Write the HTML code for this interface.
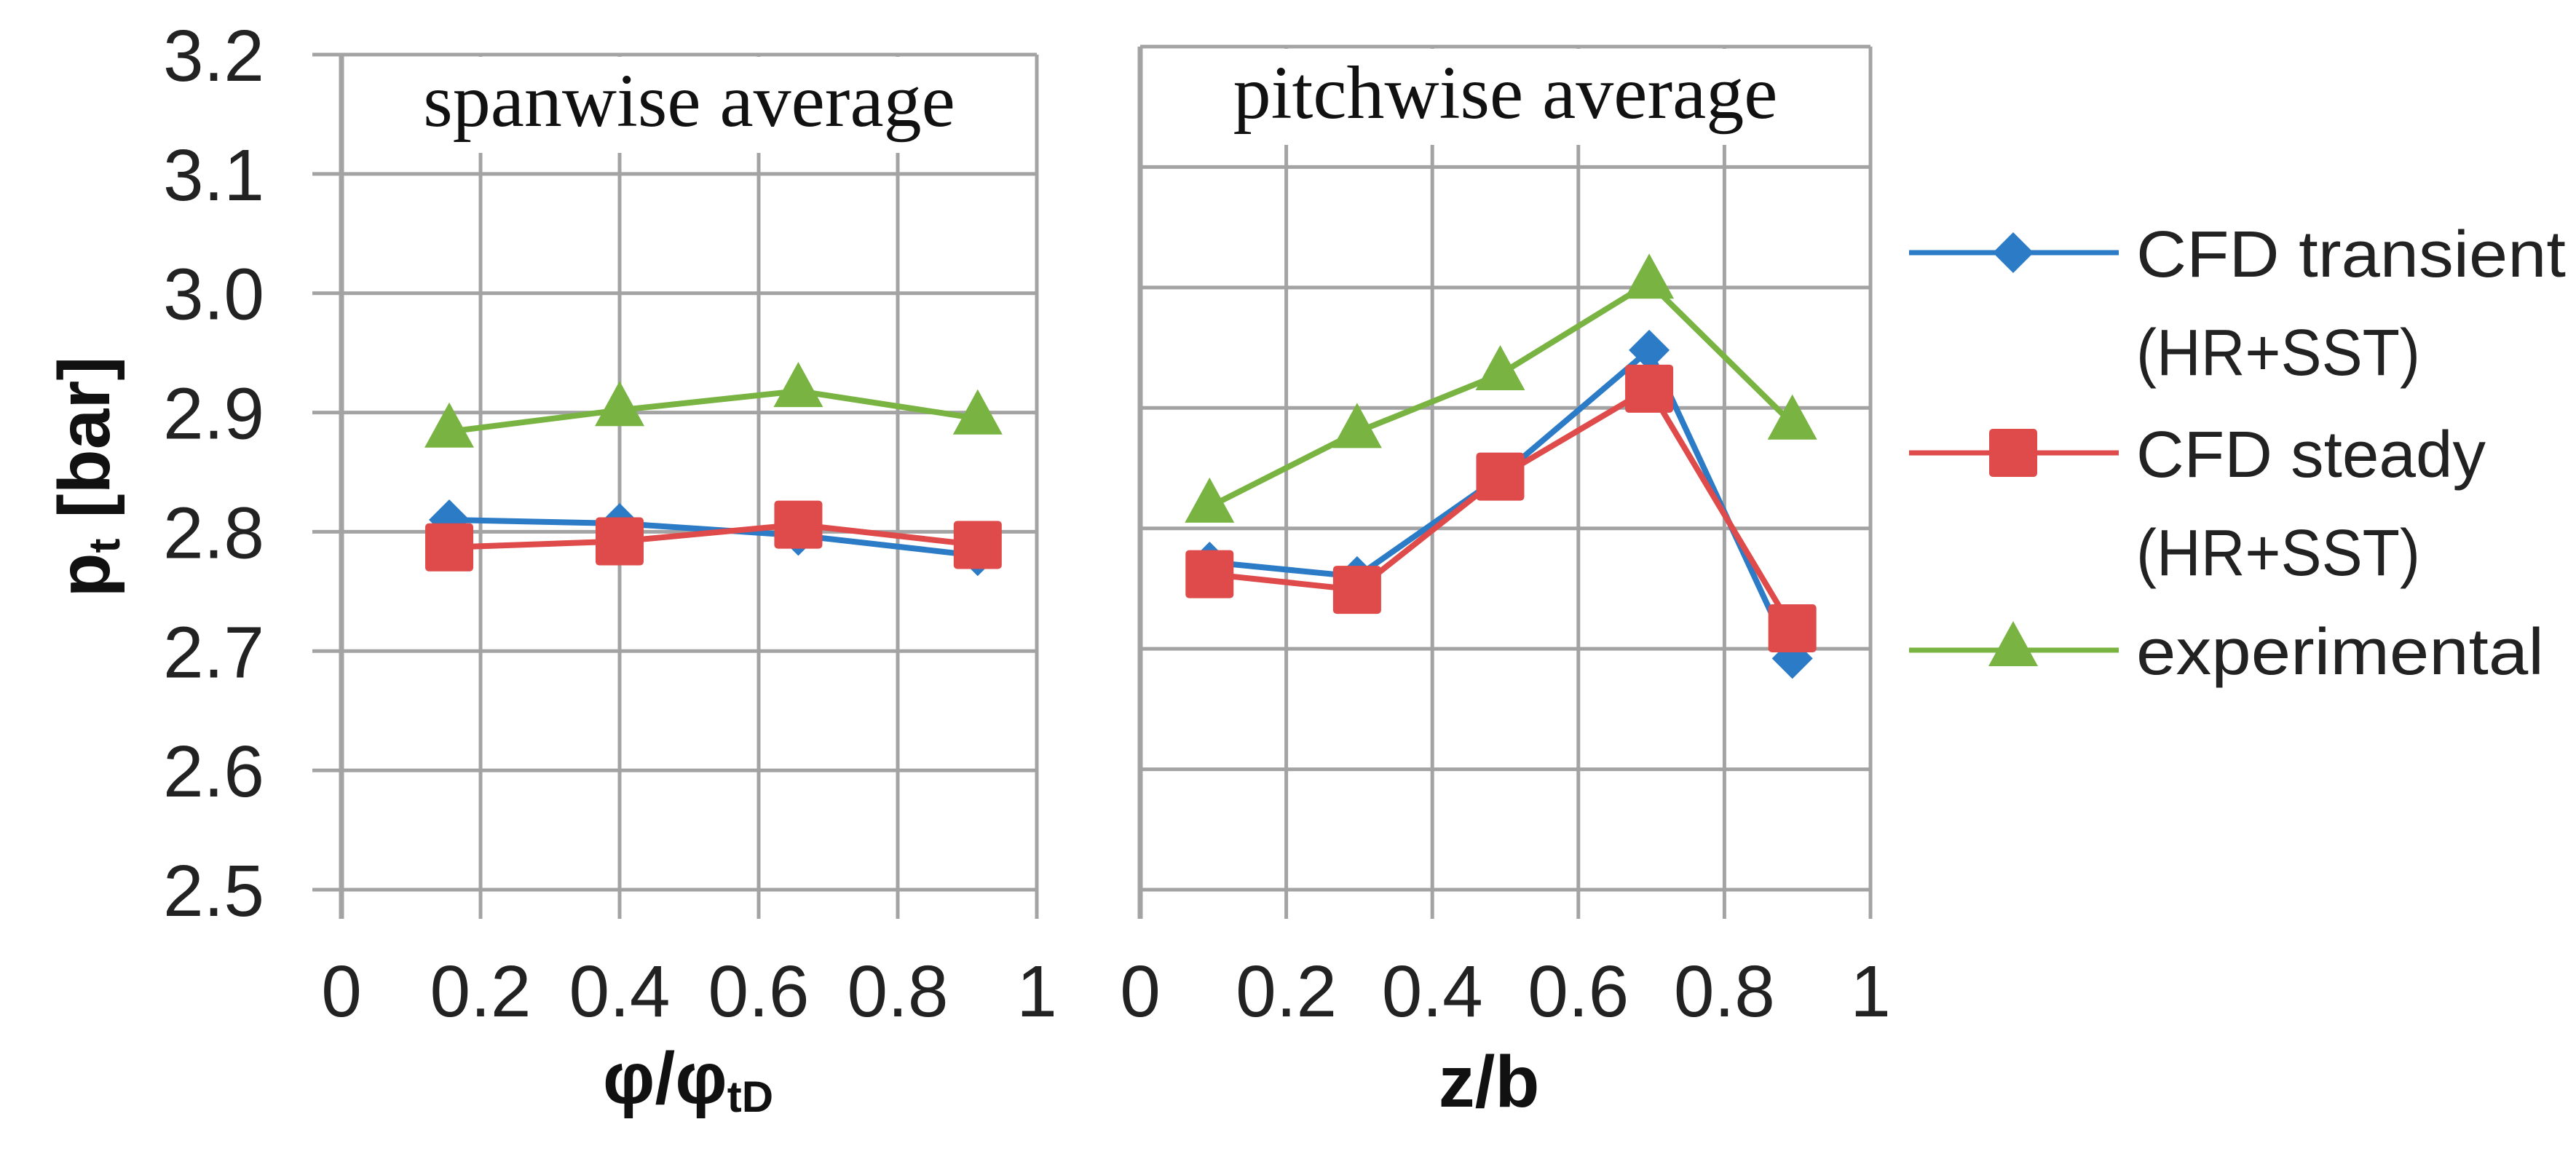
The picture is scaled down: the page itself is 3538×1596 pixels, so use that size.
<!DOCTYPE html>
<html><head><meta charset="utf-8"><style>
html,body{margin:0;padding:0;background:#fff;}
svg{display:block;}
</style></head><body>
<svg id="chart" width="3538" height="1596" viewBox="0 0 3538 1596" xmlns="http://www.w3.org/2000/svg" font-family="Liberation Sans, sans-serif">
</svg>
<script>
const yTicks = [2.5, 2.6, 2.7, 2.8, 2.9, 3.0, 3.1, 3.2];
const xTicks = [0, 0.2, 0.4, 0.6, 0.8, 1];
const xTickLabels = ["0", "0.2", "0.4", "0.6", "0.8", "1"];
const seriesNames = ["CFD transient", "CFD steady", "experimental"];
const spanX = [0.155, 0.40, 0.657, 0.915];
const spanTransient = [2.810, 2.807, 2.797, 2.780];
const spanSteady = [2.787, 2.792, 2.806, 2.789];
const spanExperimental = [2.884, 2.902, 2.918, 2.895];
const pitchX = [0.095, 0.297, 0.493, 0.697, 0.893];
const pitchTransient = [2.772, 2.760, 2.843, 2.948, 2.692];
const pitchSteady = [2.762, 2.749, 2.843, 2.916, 2.717];
const pitchExperimental = [2.818, 2.880, 2.928, 3.004, 2.887];

const NS = "http://www.w3.org/2000/svg";
const svg = document.getElementById("chart");
function mk(tag, attrs, parent) {
  const e = document.createElementNS(NS, tag);
  for (const k in attrs) e.setAttribute(k, attrs[k]);
  (parent || svg).appendChild(e);
  return e;
}
const COLORS = {blue: "#2b7bc6", red: "#df4a4a", green: "#79b443"};
const GRID = "#a3a3a3";

function drawPanel(p) {
  const g = mk("g", {});
  
  
  const sx = v => p.x0 + (v - 0) * (p.x1 - p.x0);
  const sy = v => p.y0 - (v - 2.5) / 0.7 * (p.y0 - p.y1);
  yTicks.forEach(t => {
    const l = mk("line", {x1: p.x0 - (p.leftAxis ? 40 : 0), x2: p.x1, y1: sy(t), y2: sy(t), stroke: GRID, "stroke-width": 5}, g);
    
    
  });
  xTicks.forEach((t, i) => {
    const l = mk("line", {x1: sx(t), x2: sx(t), y1: sy(3.2), y2: sy(2.5) + 40, stroke: GRID, "stroke-width": (i === 0 ? 7 : 5)}, g);
    
    
    const tx = mk("text", {x: sx(t), y: 1396, "text-anchor": "middle", "font-size": 100, fill: "#222"}, g);
    tx.textContent = xTickLabels[i];
    
    
  });
  const box = mk("rect", {x: p.x0 + 4, y: sy(3.2) + 3, width: p.x1 - p.x0 - 8, height: 132, fill: "#fff"}, g);
  
  
  const tt = mk("text", {x: (p.x0 + p.x1) / 2, y: sy(3.2) + 98, "text-anchor": "middle", "font-size": 104, "font-family": "Liberation Serif, serif", fill: "#111"}, g);
  tt.textContent = p.title;
  
  
  const series = [
    {vals: p.tr, color: COLORS.blue, marker: "diamond", name: "series-cfd-transient"},
    {vals: p.st, color: COLORS.red, marker: "square", name: "series-cfd-steady"},
    {vals: p.ex, color: COLORS.green, marker: "triangle", name: "series-experimental"}
  ];
  series.forEach(s => {
    const sg = mk("g", {}, g);
    
    
    const pts = p.xs.map((x, i) => sx(x) + "," + sy(s.vals[i])).join(" ");
    const pl = mk("polyline", {points: pts, fill: "none", stroke: s.color, "stroke-width": 8, "stroke-linejoin": "round"}, sg);
    
    
    p.xs.forEach((x, i) => {
      const m = drawMarker(s.marker, sx(x), sy(s.vals[i]), s.color, sg);
      
      
    });
  });
}
function drawMarker(type, cx, cy, color, parent) {
  if (type === "diamond") return mk("polygon", {points: `${cx},${cy-28} ${cx+28},${cy} ${cx},${cy+28} ${cx-28},${cy}`, fill: color}, parent);
  if (type === "square") return mk("rect", {x: cx - 33, y: cy - 33, width: 66, height: 66, rx: 5, fill: color}, parent);
  return mk("polygon", {points: `${cx},${cy-40} ${cx+34},${cy+22} ${cx-34},${cy+22}`, fill: color, "stroke-linejoin": "round"}, parent);
}

drawPanel({name: "spanwise-panel", title: "spanwise average", x0: 469, x1: 1424, y0: 1222, y1: 75, leftAxis: true,
  xs: spanX, tr: spanTransient, st: spanSteady, ex: spanExperimental});
drawPanel({name: "pitchwise-panel", title: "pitchwise average", x0: 1566, x1: 2569, y0: 1222, y1: 64, leftAxis: false,
  xs: pitchX, tr: pitchTransient, st: pitchSteady, ex: pitchExperimental});

yTicks.forEach(t => {
  const y = 1222 - (t - 2.5) / 0.7 * (1222 - 75);
  const tx = mk("text", {x: 363, y: y + 36, "text-anchor": "end", "font-size": 100, fill: "#222"});
  tx.textContent = t.toFixed(1);
  
  
});

const yt = mk("text", {x: 0, y: 0, transform: "translate(150,655) rotate(-90)", "text-anchor": "middle", "font-size": 100, "font-weight": "bold", fill: "#111"});


yt.innerHTML = 'p<tspan font-size="60" dy="14">t</tspan><tspan dy="-14"> [bar]</tspan>';

const xt1 = mk("text", {x: 945, y: 1515, "text-anchor": "middle", "font-size": 100, "font-weight": "bold", fill: "#111"});


xt1.innerHTML = 'φ/φ<tspan font-size="60" dy="12">tD</tspan>';

const xt2 = mk("text", {x: 2045, y: 1520, "text-anchor": "middle", "font-size": 100, "font-weight": "bold", fill: "#111"});
xt2.textContent = "z/b";



const legendRows = [
  {y: 347, color: COLORS.blue, marker: "diamond", lines: ["CFD transient", "(HR+SST)"], name: "legend-entry-cfd-transient"},
  {y: 622, color: COLORS.red, marker: "square", lines: ["CFD steady", "(HR+SST)"], name: "legend-entry-cfd-steady"},
  {y: 893, color: COLORS.green, marker: "triangle", lines: ["experimental"], name: "legend-entry-experimental"}
];
legendRows.forEach((r, i) => {
  const lg = mk("g", {});
  
  
  mk("line", {x1: 2622, x2: 2910, y1: r.y, y2: r.y, stroke: r.color, "stroke-width": 7}, lg);
  drawMarker(r.marker, 2765, r.y, r.color, lg);
  r.lines.forEach((t, j) => {
    const tx = mk("text", {x: 2934, y: r.y + 33 + j * 135, "font-size": 90, fill: "#222", textLength: (t.length > 10 ? 590 : 480), lengthAdjust: "spacingAndGlyphs"}, lg);
    if (t === "(HR+SST)") tx.setAttribute("textLength", 390);
    if (t === "CFD steady") tx.setAttribute("textLength", 480);
    if (t === "experimental") tx.setAttribute("textLength", 560);
    tx.textContent = t;
  });
});
</script>
</body></html>
